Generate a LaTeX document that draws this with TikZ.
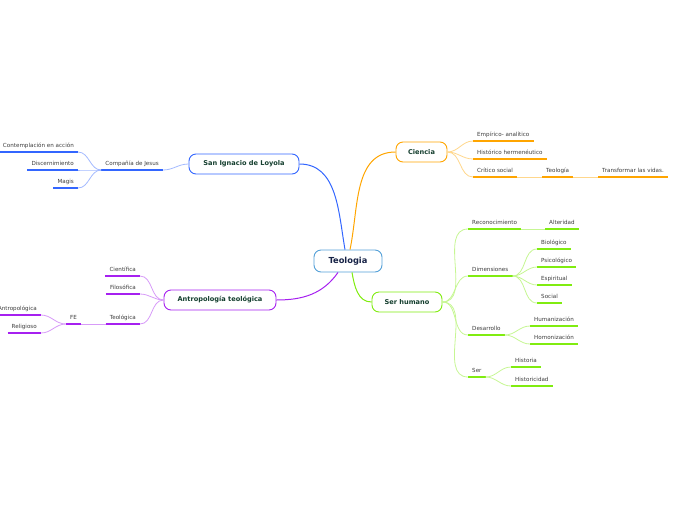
\documentclass[tikz,border=0pt]{standalone}
\usepackage{fontspec}
\setmainfont{DejaVu Sans}
\usetikzlibrary{positioning}
\definecolor{blueb}{RGB}{51,102,255}
\definecolor{orangeb}{RGB}{255,165,0}
\definecolor{greenb}{RGB}{128,236,16}
\definecolor{purpleb}{RGB}{166,32,240}
\definecolor{centerb}{RGB}{84,160,216}
\definecolor{maintext}{RGB}{20,62,46}
\definecolor{centertext}{RGB}{22,34,70}
\definecolor{leaftext}{RGB}{60,60,60}

\begin{document}
\begin{tikzpicture}[
    x=1pt, y=1pt,
    topic/.style={draw=#1, fill=white, line width=0.9pt, rounded corners=7pt, minimum height=20pt, inner xsep=10pt, font=\fontsize{6.6}{8}\selectfont\bfseries, text=maintext},
    leaf/.style={font=\fontsize{5.6}{6}\selectfont, text=leaftext, inner xsep=4pt, inner ysep=3.5pt, text height=4.2pt, text depth=1pt,
        append after command={\pgfextra{\draw[#1, line width=1.6pt] (\tikzlastnode.south west) -- (\tikzlastnode.south east);}}},
    main/.style={draw=#1, line width=1pt},
    sub/.style={draw=#1!45, line width=0.8pt}
]
    \clip (0,0) rectangle (696,-520);

    % centre and main topics
    \node[topic=centerb, text=centertext, font=\fontsize{8.3}{10}\selectfont\bfseries, minimum height=22pt, minimum width=68pt] (teo) at (348,-261) {Teologia};
    \node[topic=blueb, minimum width=110pt] (san) at (244,-164) {San Ignacio de Loyola};
    \node[topic=orangeb, minimum width=51pt] (cie) at (421.5,-152) {Ciencia};
    \node[topic=greenb, minimum width=70pt] (ser) at (407,-302) {Ser humano};
    \node[topic=purpleb, minimum width=112pt] (ant) at (220,-300) {Antropología teológica};

    \draw[main=blueb] ([xshift=-3pt]teo.north) to[out=100, in=0] (san.east);
    \draw[main=orangeb] ([xshift=2pt]teo.north) to[out=78, in=180] (cie.west);
    \draw[main=purpleb] ([xshift=-10pt]teo.south) to[out=235, in=0] (ant.east);
    \draw[main=greenb] ([xshift=4pt]teo.south) to[out=-80, in=180] (ser.west);

    % San Ignacio de Loyola
    \node[leaf=blueb, anchor=south east] (comp) at (163,-170) {Compañía de Jesus};
    \foreach \n/\y/\t in {cont/152/Contemplación en acción, disc/170/Discernimiento, magis/188/Magis}
        \node[leaf=blueb, anchor=south east] (\n) at (78,-\y) {\t};
    \draw[sub=blueb] (san.west) to[out=180, in=0] (comp.south east);
    \foreach \c in {cont,disc,magis}
        \draw[sub=blueb] (comp.south west) to[out=180, in=0] (\c.south east);

    % Ciencia
    \foreach \n/\x/\y/\t in {emp/473/141/Empírico- analítico, his/473/159/Histórico hermenéutico, cri/473/177/Crítico social, teol/542/177/Teología, tra/598/177/Transformar las vidas.}
        \node[leaf=orangeb, anchor=south west] (\n) at (\x,-\y) {\t};
    \foreach \c in {emp,his,cri}
        \draw[sub=orangeb] (cie.east) to[out=0, in=180] (\c.south west);
    \draw[sub=orangeb] (cri.south east) -- (teol.south west);
    \draw[sub=orangeb] (teol.south east) -- (tra.south west);

    % Ser humano
    \foreach \n/\x/\y/\t in {rec/468/229/Reconocimiento, alt/545/229/Alteridad, dim/468/276/Dimensiones, bio/537/249/Biológico, psi/537/267/Psicológico, esp/537/285/Espiritual, soc/537/303/Social, des/468/335/Desarrollo, hum/530/326/Humanización, hom/530/344/Homonización, serl/468/377/Ser, hist/511/367/Historia, histc/511/386/Historicidad}
        \node[leaf=greenb, anchor=south west] (\n) at (\x,-\y) {\t};
    \foreach \c in {rec,dim,des,serl}
        \draw[sub=greenb] (ser.east) to[out=0, in=180] (\c.south west);
    \draw[sub=greenb] (rec.south east) -- (alt.south west);
    \foreach \c in {bio,psi,esp,soc}
        \draw[sub=greenb] (dim.south east) to[out=0, in=180] (\c.south west);
    \foreach \c in {hum,hom}
        \draw[sub=greenb] (des.south east) to[out=0, in=180] (\c.south west);
    \foreach \c in {hist,histc}
        \draw[sub=greenb] (serl.south east) to[out=0, in=180] (\c.south west);

    % Antropología teológica
    \foreach \n/\x/\y/\t in {cien/140/276/Científica, filo/140/294/Filosófica, teolg/140/324/Teológica, fe/81/324/FE, antro/41/315/Antropológica, reli/41/333/Religioso}
        \node[leaf=purpleb, anchor=south east] (\n) at (\x,-\y) {\t};
    \foreach \c in {cien,filo,teolg}
        \draw[sub=purpleb] (ant.west) to[out=180, in=0] (\c.south east);
    \draw[sub=purpleb] (teolg.south west) -- (fe.south east);
    \foreach \c in {antro,reli}
        \draw[sub=purpleb] (fe.south west) to[out=180, in=0] (\c.south east);
\end{tikzpicture}
\end{document}
